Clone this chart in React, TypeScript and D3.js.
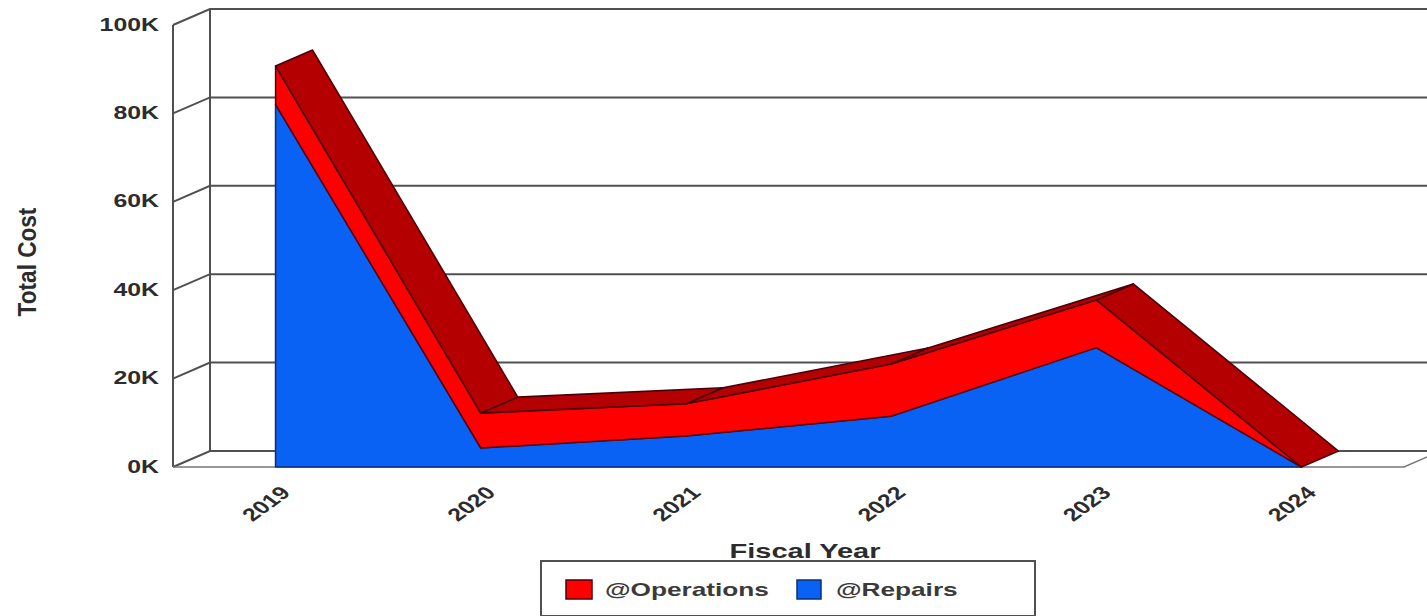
import React from "react";
import * as d3 from "d3";

const years = ["2019", "2020", "2021", "2022", "2023", "2024"];
const repairs = [82, 4.3, 7, 11.5, 27, 0];
const operations = [8.7, 7.9, 7.3, 11.8, 10.8, 0];
const yTicks = [0, 20, 40, 60, 80, 100];

const W = 1427;
const H = 616;
const depthX = 37;
const depthY = -16;
const stretch = 1.38;
const LABEL_FONT = "'Liberation Sans', Arial, sans-serif";
const AXIS_COLOR = "#505050";

const x = d3.scaleBand<string>().domain(years).range([173, 1404]);
const y = d3.scaleLinear().domain([0, 100]).range([467, 25]);
const cx = (i: number) => (x(years[i]) as number) + x.bandwidth() / 2;

const totals = repairs.map((r, i) => r + operations[i]);

const areaPath = d3
  .area<number>()
  .x((_, i) => cx(i))
  .y0((_, i) => y(0))
  .y1((d) => y(d));

const bandPath = d3
  .area<number>()
  .x((_, i) => cx(i))
  .y0((_, i) => y(repairs[i]))
  .y1((d) => y(d));

const line = d3.line<[number, number]>();

function App() {
  const [x0, x1] = x.range();
  return (
    <svg
      width={W}
      height={H}
      viewBox={`0 0 ${W} ${H}`}
      style={{ position: "absolute", left: 0, top: 0, background: "#fff" }}
    >
      {/* back wall, side wall and floor */}
      <g fill="none" stroke={AXIS_COLOR} strokeWidth={2}>
        <path d={line([[x0, y(0)], [x0, y(100)]]) as string} />
        <path d={line([[x0 + depthX, y(0) + depthY], [x0 + depthX, y(100) + depthY]]) as string} />
        {yTicks.map((t) => (
          <path
            key={t}
            d={line([[x0, y(t)], [x0 + depthX, y(t) + depthY], [x1 + depthX, y(t) + depthY]]) as string}
          />
        ))}
        <path
          d={line([[x0, y(0)], [x1, y(0)], [x1 + depthX, y(0) + depthY]]) as string}
          stroke="#777"
          strokeWidth={1.5}
        />
      </g>

      {/* stacked fronts */}
      <path d={areaPath(repairs) as string} fill="#0a62f5" stroke="#0c2f7a" strokeWidth={1.6} strokeLinejoin="round" />
      <path d={bandPath(totals) as string} fill="#fe0000" stroke="#5a0010" strokeWidth={1.5} strokeLinejoin="round" />

      {/* top surface of the stack, one facet per segment */}
      {d3.range(years.length - 1).reverse().map((i) => {
        const a: [number, number] = [cx(i), y(totals[i])];
        const b: [number, number] = [cx(i + 1), y(totals[i + 1])];
        const facet = line([a, b, [b[0] + depthX, b[1] + depthY], [a[0] + depthX, a[1] + depthY]]) as string;
        return (
          <path key={years[i]} d={`${facet}Z`} fill="#b40000" stroke="#4a0008" strokeWidth={1.6} strokeLinejoin="round" />
        );
      })}

      {/* value axis labels */}
      <g fill="#2c2c2c" fontFamily={LABEL_FONT} fontWeight="bold" fontSize={18}>
        {yTicks.map((t) => (
          <text key={t} textAnchor="end" transform={`translate(159 ${y(t) + 5.5}) scale(${stretch} 1)`}>
            {`${t}K`}
          </text>
        ))}
      </g>

      {/* year labels */}
      <g fill="#2c2c2c" fontFamily={LABEL_FONT} fontWeight="bold" fontSize={18}>
        {years.map((yr, i) => (
          <text
            key={yr}
            textAnchor="end"
            transform={`translate(${cx(i) + 16} ${y(0) + 27}) scale(${stretch} 1) rotate(-45)`}
          >
            {yr}
          </text>
        ))}
      </g>

      {/* axis titles */}
      <text
        fill="#2c2c2c"
        fontFamily={LABEL_FONT}
        fontWeight="bold"
        fontSize={20}
        textAnchor="middle"
        transform={`translate(36 262) scale(1.25 1.13) rotate(-90)`}
      >
        Total Cost
      </text>
      <text
        fill="#2c2c2c"
        fontFamily={LABEL_FONT}
        fontWeight="bold"
        fontSize={21}
        textAnchor="middle"
        transform={`translate(805 558) scale(${stretch} 1)`}
      >
        Fiscal Year
      </text>

      {/* legend */}
      <rect x={541} y={561} width={494} height={55} fill="#fff" stroke={AXIS_COLOR} strokeWidth={2} />
      <rect x={566} y={580} width={26} height={19} fill="#fe0000" stroke="#4a0008" strokeWidth={1.5} />
      <rect x={797} y={580} width={24} height={19} fill="#0a62f5" stroke="#0c2f7a" strokeWidth={1.5} />
      <g fill="#3a3a3a" fontFamily={LABEL_FONT} fontWeight="bold" fontSize={19}>
        <text transform={`translate(605 596) scale(${stretch} 1)`}>@Operations</text>
        <text transform={`translate(836 596) scale(${stretch} 1)`}>@Repairs</text>
      </g>
    </svg>
  );
}

export default App;
